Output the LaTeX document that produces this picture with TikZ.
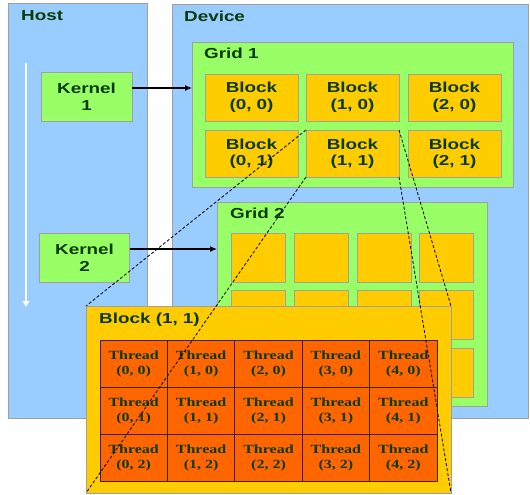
\documentclass[tikz,border=0pt]{standalone}
\usepackage{fontspec}
\newfontfamily\lbl[FakeStretch=1.3]{Liberation Sans}
\newfontfamily\thr[FakeStretch=1.28]{Liberation Serif}
\usetikzlibrary{arrows.meta}
\definecolor{hostblue}{HTML}{99CCFF}
\definecolor{lgreen}{HTML}{99FF66}
\definecolor{gold}{HTML}{FFCC00}
\definecolor{orng}{HTML}{FF6600}
\definecolor{txt}{HTML}{0A3A0A}
\definecolor{bgray}{HTML}{A0A0A0}
\definecolor{tborder}{HTML}{3A2010}
\begin{document}
\begin{tikzpicture}[x=1pt,y=-1pt,
  panel/.style={draw=bgray, line width=0.9pt, inner sep=0pt, outer sep=0pt},
  bigpanel/.style={panel, fill=hostblue},
  greenbox/.style={panel, fill=lgreen},
  goldbox/.style={panel, fill=gold},
  lbltext/.style={font=\lbl\bfseries\fontsize{14.5}{16.5}\selectfont, text=txt, align=center},
  title/.style={anchor=base west, inner sep=0pt, font=\lbl\bfseries\fontsize{14.5}{16}\selectfont, text=txt},
  threadbox/.style={draw=tborder, line width=0.8pt, fill=orng, inner sep=0pt, outer sep=0pt,
     minimum width=67.4pt, minimum height=47pt, align=center,
     font=\thr\bfseries\fontsize{12.5}{15}\selectfont, text=txt},
  launch/.style={line width=1.2pt, -{Latex[length=7pt,width=6pt]}},
  zoomline/.style={line width=0.8pt, dash pattern=on 3pt off 2pt}
]
\useasboundingbox (0,0) rectangle (530,495);

% Host and Device
\node[bigpanel, minimum width=139pt, minimum height=415pt] (host) at (77.5,210.5) {};
\node[bigpanel, minimum width=356pt, minimum height=414pt] (device) at (350,211) {};
\node[title] (hostlbl) at (21,21) {Host};
\node[title] (devlbl) at (184,21.5) {Device};

% host time arrow
\coordinate (hs) at (26,63);
\coordinate (he) at (26,307);
\draw[white, line width=1.6pt, -{Triangle[length=6pt,width=7pt]}] (hs) -- (he);

% Kernels
\node[greenbox, lbltext, minimum width=91pt, minimum height=49pt] (k1) at (86.5,96.5) {Kernel\\1};
\node[greenbox, lbltext, minimum width=90pt, minimum height=49pt] (k2) at (84.5,257.5) {Kernel\\2};

% Grid 1
\node[greenbox, minimum width=321pt, minimum height=145pt] (g1) at (352.5,114.5) {};
\node[title] (g1lbl) at (204,59) {Grid 1};
\foreach \c/\cx in {0/251.5,1/352.5,2/454.5}{
  \foreach \r/\ry in {0/97.5,1/153.5}{
    \node[goldbox, lbltext, minimum width=93pt, minimum height=47pt] (b\c\r) at (\cx,\ry) {Block\\(\c, \r)};
  }
}

% Grid 2
\node[greenbox, minimum width=270pt, minimum height=204pt] (g2) at (352,304) {};
\node[title] (g2lbl) at (230,218) {Grid 2};
\foreach \c/\cx in {0/258.5,1/321,2/384,3/446.5}{
  \foreach \r/\ry in {0/257.5,1/314.5,2/372.5}{
    \node[goldbox, minimum width=54pt, minimum height=49pt] (gb\c\r) at (\cx,\ry) {};
  }
}

% launch arrows
\draw[launch] ([yshift=8.5pt]k1.east) -- ([yshift=8.5pt]k1.east -| g1.west);
\draw[launch] ([yshift=8.5pt]k2.east) -- ([yshift=8.5pt]k2.east -| g2.west);

% Block (1,1) detail
\node[goldbox, minimum width=365pt, minimum height=187pt] (big) at (268.5,399.5) {};
\node[title] (biglbl) at (99,323) {Block (1, 1)};
\foreach \i in {0,...,4}{
  \foreach \j in {0,...,2}{
    \node[threadbox] (t\i\j) at ({100+67.4*(\i+0.5)},{340+47*(\j+0.5)}) {Thread\\(\i, \j)};
  }
}
\draw[tborder, line width=1pt] (t00.north west) rectangle (t42.south east);

% zoom lines
\draw[zoomline] (b11.north west) -- (big.north west);
\draw[zoomline] (b11.south west) -- (big.south west);
\draw[zoomline] (b11.north east) -- (big.north east);
\draw[zoomline] (b11.south east) -- (big.south east);
\end{tikzpicture}
\end{document}
